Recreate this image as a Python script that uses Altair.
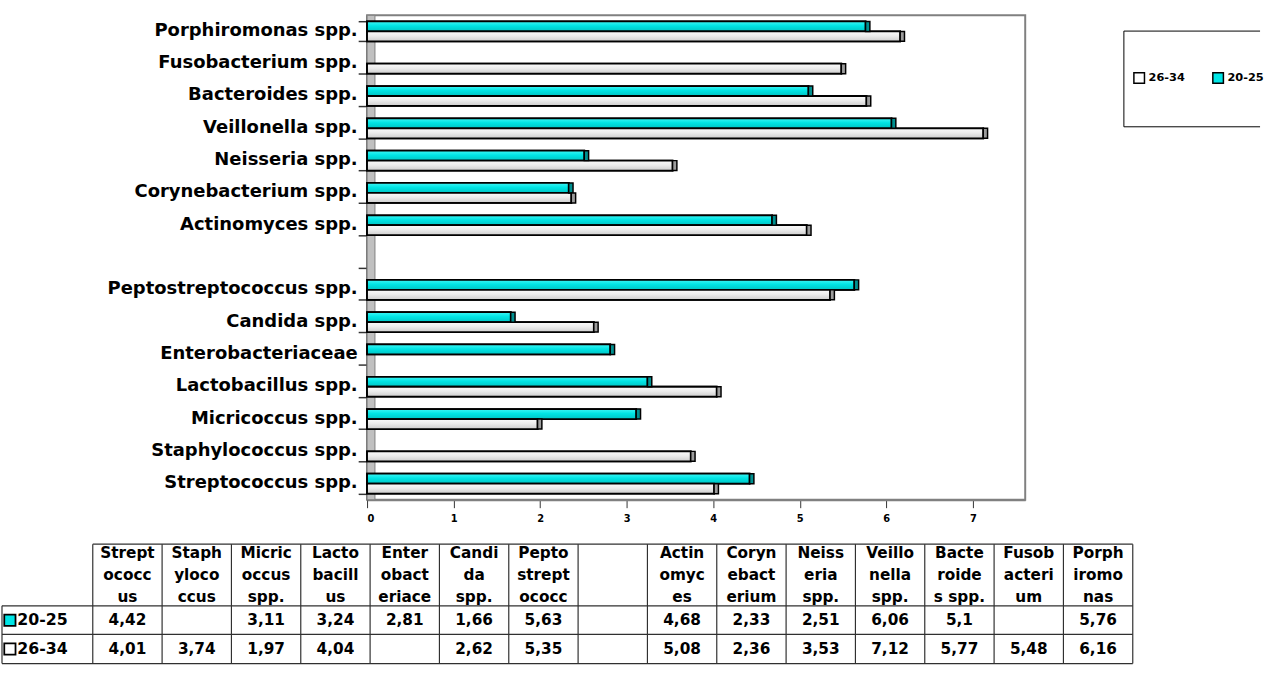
import altair as alt
import pandas as pd

# ---------------- data ----------------
categories = [
    "Streptococcus spp.", "Staphylococcus spp.", "Micricoccus spp.", "Lactobacillus spp.",
    "Enterobacteriaceae", "Candida spp.", "Peptostreptococcus spp.", " ",
    "Actinomyces spp.", "Corynebacterium spp.", "Neisseria spp.", "Veillonella spp.",
    "Bacteroides spp.", "Fusobacterium spp.", "Porphiromonas spp.",
]
table_headers = [
    "Strept\nococc\nus", "Staph\nyloco\nccus", "Micric\noccus\nspp.", "Lacto\nbacill\nus",
    "Enter\nobact\neriace", "Candi\nda\nspp.", "Pepto\nstrept\nococc", "",
    "Actin\nomyc\nes", "Coryn\nebact\nerium", "Neiss\neria\nspp.", "Veillo\nnella\nspp.",
    "Bacte\nroide\ns spp.", "Fusob\nacteri\num", "Porph\niromo\nnas",
]
series_names = ["20-25", "26-34"]
values_20_25 = [4.42, None, 3.11, 3.24, 2.81, 1.66, 5.63, None, 4.68, 2.33, 2.51, 6.06, 5.1, None, 5.76]
values_26_34 = [4.01, 3.74, 1.97, 4.04, None, 2.62, 5.35, None, 5.08, 2.36, 3.53, 7.12, 5.77, 5.48, 6.16]
x_tick_values = [0, 1, 2, 3, 4, 5, 6, 7]

# ---------------- styling / layout constants ----------------
FONT = "DejaVu Sans"
CYAN = "#00e6e6"
CAP_DEPTH = 0.05
AXIS_EXTENT = 371
PLOT_W = 667
PLOT_H = 491
X_MAX = 7.605
X_AXIS_EXTENT = 26
COL_W = 70.27
TABLE_LEFT_PX = 93
TABLE_W = 1147 - AXIS_EXTENT
ROW_EDGES = [0, 62.5, 91.5, 121]
TABLE_H = 122
LABEL_COL_LEFT = -TABLE_LEFT_PX / COL_W + 1 / COL_W
Y_DOMAIN = list(reversed(categories))
LEG_L, LEG_R, LEG_T, LEG_B = 767, 905, 16, 113

# ---------------- bar chart ----------------
rows = []
for s, vals in zip(series_names, [values_20_25, values_26_34]):
    for c, v in zip(categories, vals):
        if v is not None:
            rows.append({"category": c, "series": s, "value": v, "cap": v + CAP_DEPTH})
bars_df = pd.DataFrame(rows)
one_df = pd.DataFrame({"k": [0]})

y_enc = alt.Y(
    "category:N",
    scale=alt.Scale(domain=Y_DOMAIN, paddingInner=0.383, paddingOuter=0.19),
    axis=alt.Axis(
        title=None, labelFont=FONT, labelFontSize=18.2, labelFontWeight="bold",
        labelColor="black", labelLimit=400, tickBand="extent", tickSize=9,
        labelPadding=1, labelOffset=-1, tickColor="#333333", tickWidth=1.5,
        domainColor="#333333", domainWidth=1.5,
        minExtent=AXIS_EXTENT, maxExtent=AXIS_EXTENT,
    ),
)
yoff_enc = alt.YOffset("series:N", sort=series_names,
                       scale=alt.Scale(domain=series_names, paddingInner=0, paddingOuter=0))
x_enc = alt.X(
    "value:Q",
    scale=alt.Scale(domain=[0, X_MAX], nice=False, zero=True),
    axis=alt.Axis(
        values=x_tick_values, format="d", title=None, grid=False, labelFont=FONT,
        labelFontSize=10, labelFontWeight="bold", labelColor="black", tickSize=8,
        labelPadding=6, tickColor="#333333", domainColor="#808080", domainWidth=2,
        minExtent=X_AXIS_EXTENT, maxExtent=X_AXIS_EXTENT,
    ),
)

wall = alt.Chart(one_df).mark_rect(fill="#c0c0c0", stroke="#808080", strokeWidth=1).encode(
    x=alt.value(0), x2=alt.value(8), y=alt.value(0), y2=alt.value(PLOT_H)
)

base_bars = alt.Chart(bars_df).mark_bar(stroke="black", strokeWidth=1.8).encode(
    x=x_enc, y=y_enc, yOffset=yoff_enc,
    fill=alt.Fill(
        "series:N",
        scale=alt.Scale(domain=["26-34", "20-25"], range=["#ffffff", CYAN]),
        legend=alt.Legend(
            orient="none", legendX=776, legendY=57, direction="horizontal", title=None,
            symbolType="square", symbolSize=115, symbolStrokeColor="black",
            symbolStrokeWidth=1.5, labelFont=FONT, labelFontSize=11.5,
            labelFontWeight="bold", labelColor="black", labelOffset=3,
            columnPadding=25, padding=0,
        ),
    ),
)

cyan_grad = alt.Gradient(
    gradient="linear", x1=0, x2=0, y1=0, y2=1,
    stops=[alt.GradientStop(offset=0, color="#3ff5f5"),
           alt.GradientStop(offset=0.45, color="#00e4e4"),
           alt.GradientStop(offset=1, color="#00c4c4")],
)
gray_grad = alt.Gradient(
    gradient="linear", x1=0, x2=0, y1=0, y2=1,
    stops=[alt.GradientStop(offset=0, color="#fbfbfb"),
           alt.GradientStop(offset=0.45, color="#ececec"),
           alt.GradientStop(offset=1, color="#cdcdcd")],
)

def face(series, grad):
    return alt.Chart(bars_df).transform_filter(
        alt.datum.series == series
    ).mark_bar(fill=grad, stroke="black", strokeWidth=1.8).encode(
        x="value:Q", y="category:N", yOffset="series:N",
    )

def cap(series, color):
    return alt.Chart(bars_df).transform_filter(
        alt.datum.series == series
    ).mark_rect(fill=color, stroke="black", strokeWidth=1.5).encode(
        x="value:Q", x2="cap:Q", y="category:N", yOffset="series:N",
    )

# legend frame (its right side runs off the page in the original)
leg_top = alt.Chart(one_df).mark_rule(color="black", strokeWidth=1).encode(
    x=alt.value(LEG_L), x2=alt.value(LEG_R), y=alt.value(LEG_T))
leg_bottom = alt.Chart(one_df).mark_rule(color="black", strokeWidth=1).encode(
    x=alt.value(LEG_L), x2=alt.value(LEG_R), y=alt.value(LEG_B))
leg_left = alt.Chart(one_df).mark_rule(color="black", strokeWidth=1).encode(
    x=alt.value(LEG_L), y=alt.value(LEG_T), y2=alt.value(LEG_B))

bar_chart = alt.layer(
    wall, base_bars,
    face("20-25", cyan_grad), face("26-34", gray_grad),
    cap("20-25", "#009090"), cap("26-34", "#9c9c9c"),
    leg_top, leg_bottom, leg_left,
).properties(
    width=PLOT_W, height=PLOT_H,
    view=alt.ViewBackground(stroke="#808080", strokeWidth=2),
)

# ---------------- data table ----------------
# x unit = one table column; column i spans [i, i+1]
vlines = [{"x": i, "y": 0, "y2": ROW_EDGES[3]} for i in range(len(categories) + 1)]
vlines.append({"x": LABEL_COL_LEFT, "y": ROW_EDGES[1], "y2": ROW_EDGES[3]})
hlines = [{"y": ROW_EDGES[0], "x": 0, "x2": len(categories)}]
hlines += [{"y": e, "x": LABEL_COL_LEFT, "x2": len(categories)} for e in ROW_EDGES[1:]]
vl_df = pd.DataFrame(vlines)
hl_df = pd.DataFrame(hlines)

header_df = pd.DataFrame({
    "x": [i + 0.5 for i in range(len(categories))],
    "y": [9.5] * len(categories),
    "text": table_headers,
})

cells = []
for r, vals in enumerate([values_20_25, values_26_34]):
    yc = (ROW_EDGES[r + 1] + ROW_EDGES[r + 2]) / 2
    for i, v in enumerate(vals):
        if v is not None:
            cells.append({"x": i + 0.5, "y": yc, "text": str(v).replace(".", ",")})
cell_df = pd.DataFrame(cells)

sq_x = LABEL_COL_LEFT + 8 / COL_W
lab_x = LABEL_COL_LEFT + 15.5 / COL_W
row_label_df = pd.DataFrame({
    "label": series_names,
    "fill": [CYAN, "#ffffff"],
    "y": [(ROW_EDGES[1] + ROW_EDGES[2]) / 2, (ROW_EDGES[2] + ROW_EDGES[3]) / 2],
    "sx": [sq_x, sq_x],
    "tx": [lab_x, lab_x],
})

x_start = (AXIS_EXTENT - TABLE_LEFT_PX) / COL_W
tx_scale = alt.Scale(domain=[x_start, len(categories)], nice=False, zero=False)
ty_scale = alt.Scale(domain=[0, TABLE_H], nice=False, zero=False, reverse=True)

t_v = alt.Chart(vl_df).mark_rule(color="#303030", strokeWidth=1.2).encode(
    x=alt.X("x:Q", scale=tx_scale, axis=None),
    y=alt.Y("y:Q", scale=ty_scale, axis=None), y2="y2:Q",
)
t_h = alt.Chart(hl_df).mark_rule(color="#303030", strokeWidth=1.2).encode(
    y=alt.Y("y:Q", scale=ty_scale, axis=None),
    x=alt.X("x:Q", scale=tx_scale, axis=None), x2="x2:Q",
)
t_head = alt.Chart(header_df).mark_text(
    font=FONT, fontSize=15.5, fontWeight="bold", color="black", align="center",
    baseline="middle", lineBreak="\n", lineHeight=22,
).encode(x=alt.X("x:Q", scale=tx_scale, axis=None),
         y=alt.Y("y:Q", scale=ty_scale, axis=None), text="text:N")
t_cells = alt.Chart(cell_df).mark_text(
    font=FONT, fontSize=15.5, fontWeight="bold", color="black", align="center",
    baseline="middle",
).encode(x=alt.X("x:Q", scale=tx_scale, axis=None),
         y=alt.Y("y:Q", scale=ty_scale, axis=None), text="text:N")
t_sq = alt.Chart(row_label_df).mark_point(
    shape="square", size=130, filled=True, stroke="black", strokeWidth=1.8, opacity=1
).encode(x=alt.X("sx:Q", scale=tx_scale, axis=None),
         y=alt.Y("y:Q", scale=ty_scale, axis=None),
         fill=alt.Fill("fill:N", scale=None))
t_lab = alt.Chart(row_label_df).mark_text(
    font=FONT, fontSize=16, fontWeight="bold", color="black", align="left",
    baseline="middle",
).encode(x=alt.X("tx:Q", scale=tx_scale, axis=None),
         y=alt.Y("y:Q", scale=ty_scale, axis=None), text="label:N")

table_chart = alt.layer(t_v, t_h, t_head, t_cells, t_sq, t_lab).properties(
    width=TABLE_W, height=TABLE_H
)

chart = alt.vconcat(bar_chart, table_chart, spacing=17).properties(
    padding={"left": 0, "top": 0, "right": 0, "bottom": 0}
).configure(font=FONT).configure_view(strokeWidth=0)

chart.save("out.html", embed_options={"renderer": "svg", "actions": False})
